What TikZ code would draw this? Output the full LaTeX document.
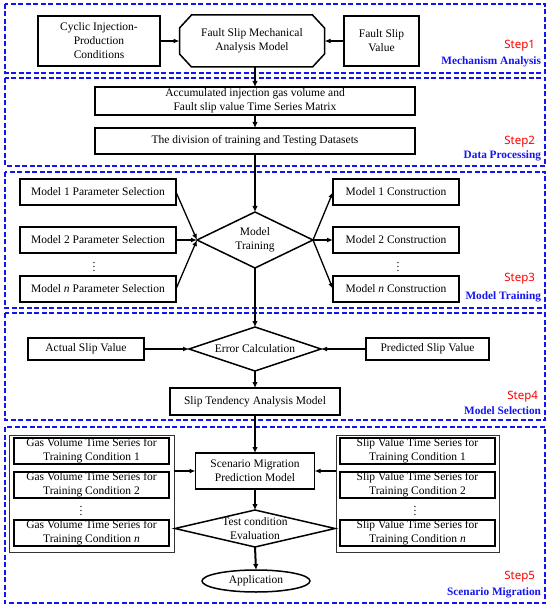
\documentclass[tikz,border=0pt]{standalone}
\usepackage{fontspec}
\setmainfont{Liberation Serif}
\newfontfamily\stepfont{Noto Sans}
\usetikzlibrary{shapes.geometric,shapes.misc,arrows.meta}
\definecolor{frameblue}{RGB}{20,20,240}
\definecolor{stepred}{RGB}{255,0,0}
\begin{document}
\begin{tikzpicture}[x=1pt,y=-1pt,
  every node/.style={inner sep=0pt, outer sep=0pt, align=center, font=\fontsize{11.5}{14}\selectfont},
  box/.style={draw, line width=1.5pt, rectangle},
  grp/.style={draw=black!80, line width=0.8pt, rectangle},
  dia/.style={draw, line width=1.5pt, diamond},
  frame/.style={draw=frameblue, line width=1.4pt, dash pattern=on 5pt off 2.5pt},
  arr/.style={line width=1.3pt, -{Latex[length=6pt,width=5pt]}},
  mainarr/.style={line width=2pt, -{Latex[length=6pt,width=5.5pt]}},
  steplab/.style={anchor=east, text=stepred, font=\stepfont\fontsize{11.5}{13}\selectfont},
  subtitle/.style={anchor=east, text=frameblue, font=\bfseries\fontsize{11.3}{12}\selectfont},
]
\useasboundingbox (0,0) rectangle (550,609);
% frames
\draw[frame] (5,4) rectangle (545,73);
\draw[frame] (5,78) rectangle (545,166);
\draw[frame] (5,172) rectangle (545,308);
\draw[frame] (5,313) rectangle (545,420);
\draw[frame] (5,427) rectangle (545,603);
% step labels
\node[steplab] (s1) at (535,46) {Step1};
\node[subtitle] (t1) at (541,62) {Mechanism Analysis};
\node[steplab] (s2) at (535,142) {Step2};
\node[subtitle] (t2) at (541,156) {Data Processing};
\node[steplab] (s3) at (535,279) {Step3};
\node[subtitle] (t3) at (541,297) {Model Training};
\node[steplab] (s4) at (538,397) {Step4};
\node[subtitle] (t4) at (541,411) {Model Selection};
\node[steplab] (s5) at (535,577) {Step5};
\node[subtitle] (t5) at (541,593) {Scenario Migration};
% Step 1
\node[box, minimum width=122pt, minimum height=50pt] (cyc) at (99,41) {Cyclic Injection-\\Production\\Conditions};
\node[minimum width=145pt, minimum height=52pt] (oct) at (252,41) {Fault Slip Mechanical\\Analysis Model};
\draw[line width=1.5pt] ([xshift=12pt]oct.north west) -- ([xshift=-12pt]oct.north east)
  -- ([yshift=-13pt]oct.north east) -- ([yshift=13pt]oct.south east)
  -- ([xshift=-12pt]oct.south east) -- ([xshift=12pt]oct.south west)
  -- ([yshift=13pt]oct.south west) -- ([yshift=-13pt]oct.north west) -- cycle;
\node[box, minimum width=75pt, minimum height=50pt] (fsv) at (381.5,41) {Fault Slip\\Value};
\draw[arr] (cyc.east) -- (oct.west);
\draw[arr] (fsv.west) -- (oct.east);
% Step 2
\node[box, minimum width=320pt, minimum height=28pt] (acc) at (255,101) {Accumulated injection gas volume and\\Fault slip value Time Series Matrix};
\node[box, minimum width=320pt, minimum height=26pt] (div) at (255,141) {The division of training and Testing Datasets};
\draw[mainarr] (acc.north |- oct.south) -- (acc.north);
\draw[mainarr] (acc) -- (div);
% Step 3
\node[dia, minimum width=116pt, minimum height=56pt, aspect=2.07] (mt) at (255,240) {Model\\Training};
\draw[mainarr] (div) -- (mt);
\node[box, minimum width=156pt, minimum height=26pt] (p1) at (98,192) {Model 1 Parameter Selection};
\node[box, minimum width=156pt, minimum height=26pt] (p2) at (98,240) {Model 2 Parameter Selection};
\node (pd) at (94,264) {$\vdots$};
\node[box, minimum width=156pt, minimum height=26pt] (pn) at (98,289) {Model \textit{n} Parameter Selection};
\node[box, minimum width=126pt, minimum height=26pt] (c1) at (396,192) {Model 1 Construction};
\node[box, minimum width=126pt, minimum height=26pt] (c2) at (396,240) {Model 2 Construction};
\node (cd) at (398,264) {$\vdots$};
\node[box, minimum width=126pt, minimum height=26pt] (cn) at (396,289) {Model \textit{n} Construction};
\draw[arr] (p1.east) -- (mt.west);
\draw[arr] (p2.east) -- (mt.west);
\draw[arr] (pn.east) -- (mt.west);
\draw[arr] (mt.east) -- (c1.west);
\draw[arr] (mt.east) -- (c2.west);
\draw[arr] (mt.east) -- (cn.west);
% Step 4
\node[box, minimum width=116pt, minimum height=22pt] (act) at (86,349) {Actual Slip Value};
\node[dia, minimum width=132pt, minimum height=44pt, aspect=3] (err) at (255,349) {Error Calculation};
\node[box, minimum width=123pt, minimum height=22pt] (pre) at (427.5,349) {Predicted Slip Value};
\draw[mainarr] (mt.south) -- (err.north);
\draw[arr] (act.east) -- (err.west);
\draw[arr] (pre.west) -- (err.east);
\node[box, minimum width=170pt, minimum height=27pt] (slt) at (255,401.5) {Slip Tendency Analysis Model};
\draw[mainarr] (err.south) -- (slt.north);
% Step 5
\node[grp, minimum width=165pt, minimum height=117pt] (lg) at (91.5,493.5) {};
\node[box, line width=1.2pt, minimum width=155pt, minimum height=26pt] (g1) at (91.5,451) {Gas Volume Time Series for\\Training Condition 1};
\node[box, line width=1.2pt, minimum width=155pt, minimum height=26pt] (g2) at (91.5,485) {Gas Volume Time Series for\\Training Condition 2};
\node (gd) at (81,508) {$\vdots$};
\node[box, line width=1.2pt, minimum width=155pt, minimum height=26pt] (gn) at (91.5,533) {Gas Volume Time Series for\\Training Condition \textit{n}};
\node[grp, minimum width=163pt, minimum height=117pt] (rg) at (417.5,493.5) {};
\node[box, line width=1.2pt, minimum width=155pt, minimum height=26pt] (v1) at (417.5,451) {Slip Value Time Series for\\Training Condition 1};
\node[box, line width=1.2pt, minimum width=155pt, minimum height=26pt] (v2) at (417.5,485) {Slip Value Time Series for\\Training Condition 2};
\node (vd) at (415,508) {$\vdots$};
\node[box, line width=1.2pt, minimum width=155pt, minimum height=26pt] (vn) at (417.5,533) {Slip Value Time Series for\\Training Condition \textit{n}};
\node[box, minimum width=119pt, minimum height=36pt] (scn) at (255,471) {Scenario Migration\\Prediction Model};
\draw[mainarr] (slt.south) -- (scn.north);
\draw[arr] (lg.east |- scn.west) -- (scn.west);
\draw[arr] (rg.west |- scn.east) -- (scn.east);
\node[dia, minimum width=160pt, minimum height=37pt, aspect=4.3,
  label={[font=\fontsize{11.5}{14}\selectfont, align=center]center:Test condition\\Evaluation}] (tst) at (255,528.5) {};
\draw[mainarr] (scn.south) -- (tst.north);
\node[draw, ellipse, line width=1.5pt, minimum width=108pt, minimum height=22pt] (app) at (256,581) {Application};
\draw[mainarr] (tst.south) -- (app.north);
\end{tikzpicture}
\end{document}
